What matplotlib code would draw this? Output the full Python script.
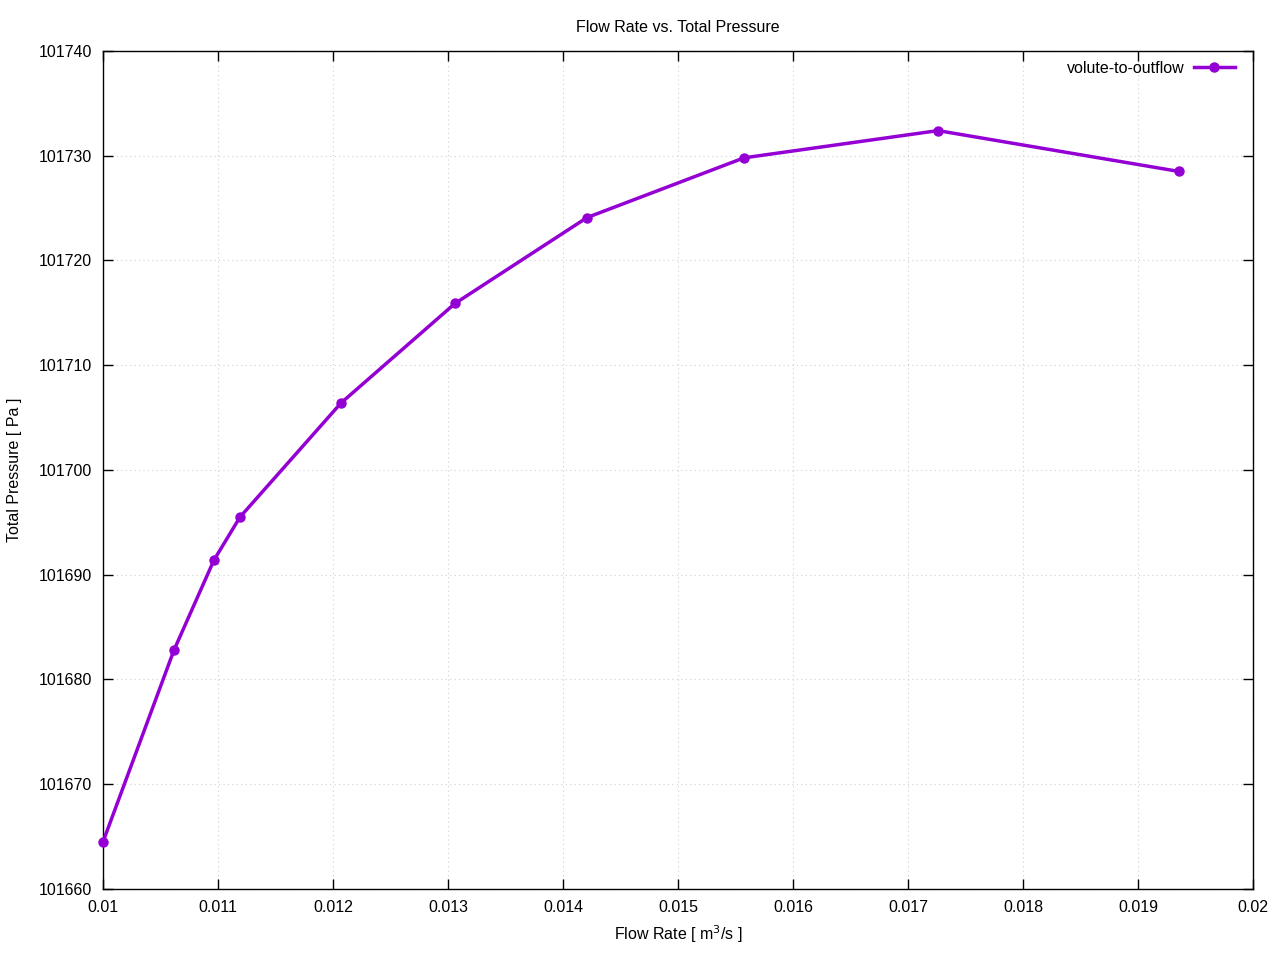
import matplotlib
matplotlib.use("Agg")
import matplotlib.pyplot as plt
from matplotlib.ticker import MultipleLocator, FormatStrFormatter

flow_rate = [0.01000, 0.010617, 0.010965, 0.011191, 0.012070, 0.013061, 0.014209, 0.015574, 0.017261, 0.019357]
total_pressure = [101664.5, 101682.8, 101691.4, 101695.5, 101706.4, 101715.9, 101724.1, 101729.8, 101732.4, 101728.5]
series_label = "volute-to-outflow"

plt.rcParams['font.family'] = ['Liberation Sans', 'DejaVu Sans']
plt.rcParams['font.size'] = 11.5

fig = plt.figure(figsize=(12.8, 9.6), dpi=100)
ax = fig.add_axes([103/1280, 1-889/960, 1150/1280, 838/960])

ax.plot(flow_rate, total_pressure, color='#9400D3', lw=2.5, marker='o', ms=6.5,
        label=series_label, clip_on=False, zorder=5)

ax.set_xlim(0.01, 0.02)
ax.set_ylim(101660, 101740)
ax.xaxis.set_major_locator(MultipleLocator(0.001))
ax.yaxis.set_major_locator(MultipleLocator(10))
ax.xaxis.set_major_formatter(FormatStrFormatter('%g'))
ax.yaxis.set_major_formatter(FormatStrFormatter('%d'))
ax.tick_params(direction='in', top=True, right=True, length=7, width=1, labelsize=11.5, pad=8)
for s in ax.spines.values():
    s.set_linewidth(1)
ax.grid(True, color='#d0d0d0', linestyle=(0, (1, 3)), linewidth=0.8)

ax.set_title("Flow Rate vs. Total Pressure", fontsize=11.5, pad=14)
ax.set_xlabel("Flow Rate [ m$^3$/s ]", fontsize=11.5, labelpad=6)
ax.set_ylabel("Total Pressure [ Pa ]", fontsize=11.5, labelpad=12)

leg = ax.legend(loc='upper right', bbox_to_anchor=(1 - 13/1150, 1 - 5/838),
                frameon=False, markerfirst=False, fontsize=11.5,
                handlelength=2.6, handletextpad=0.6, borderaxespad=0,
                borderpad=0.3)

fig.savefig("out.png", dpi=100)
